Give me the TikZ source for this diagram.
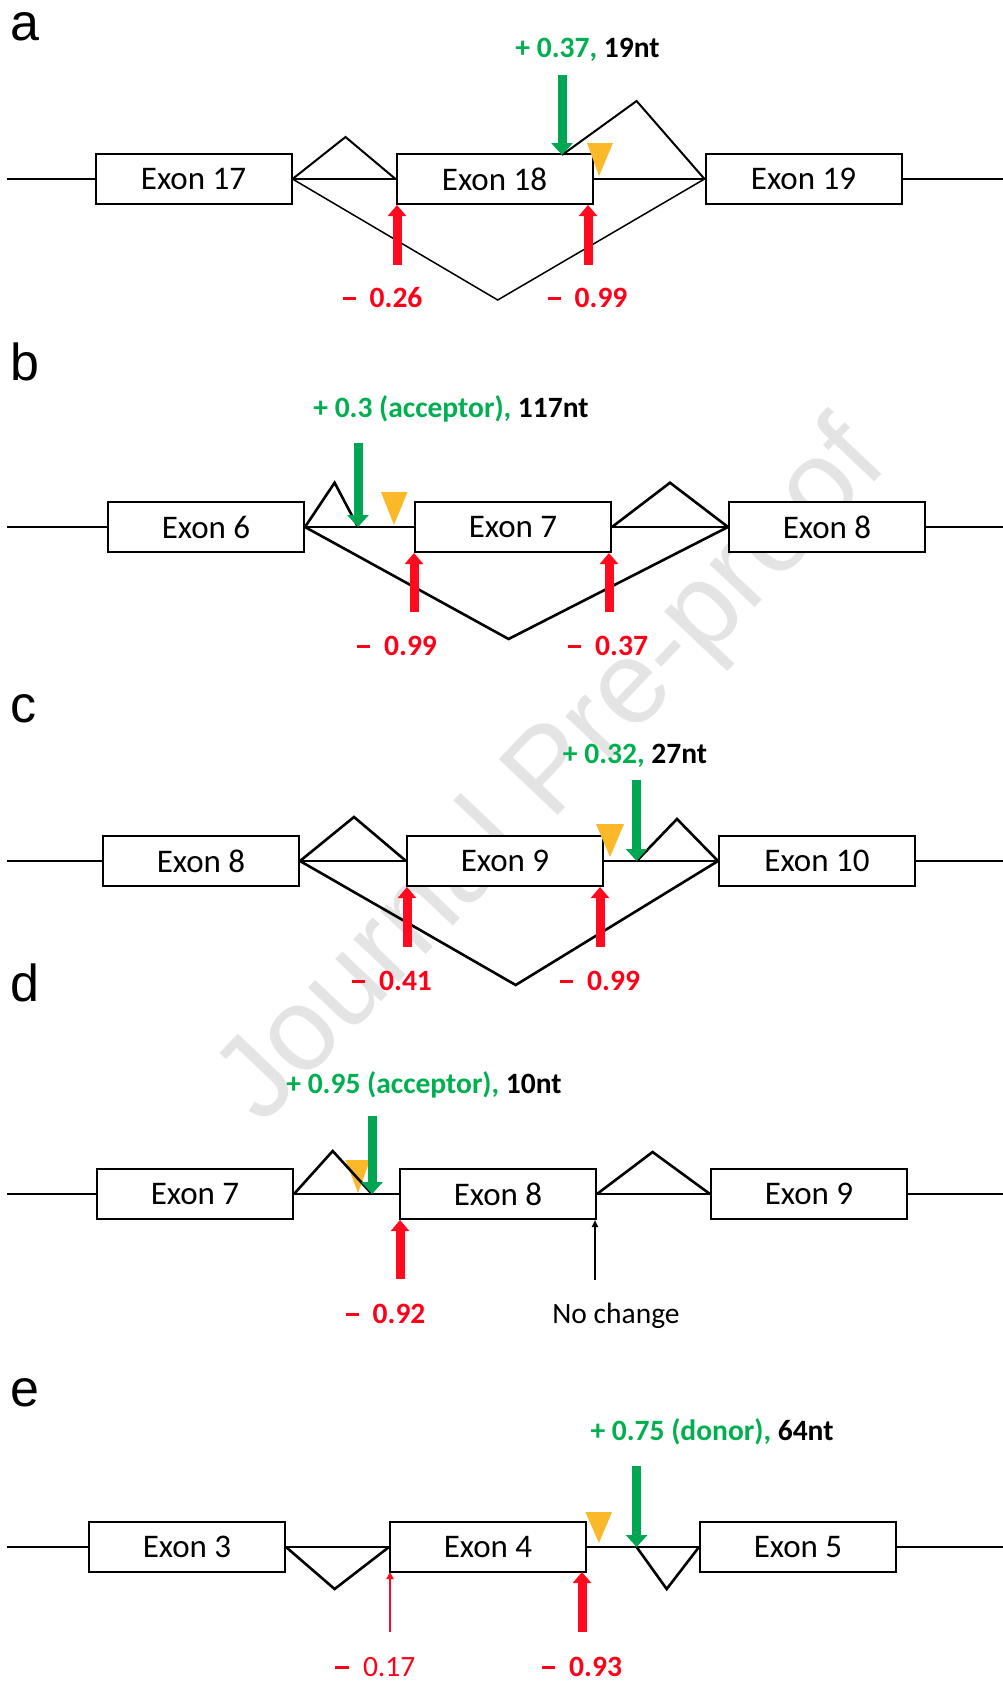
\documentclass[tikz,border=0pt]{standalone}
\usepackage{fontspec}
\setmainfont{Carlito}
\newfontfamily\lblfont{Liberation Sans}
\usetikzlibrary{arrows.meta}
\definecolor{gtext}{HTML}{00B050}
\definecolor{garrow}{HTML}{00A651}
\definecolor{rtext}{HTML}{FF0018}
\definecolor{rarrow}{HTML}{FF0A1E}
\definecolor{yel}{HTML}{FBB829}
\definecolor{wm}{HTML}{E4E4E4}
\newcommand{\bdash}{\rule[0.23em]{0.45em}{0.11em}\hspace{0.47em}}
\newcommand{\rdash}{\rule[0.25em]{0.5em}{0.075em}\hspace{0.46em}}
\begin{document}
\begin{tikzpicture}[x=1pt,y=-1pt,
 exon/.style={draw, fill=white, line width=2pt, minimum width=196pt, minimum height=50pt, inner sep=0pt, font=\fontsize{33}{33}\selectfont},
 bb/.style={line width=2pt},
 splice/.style={line width=2.6pt},
 splicea/.style={line width=2pt},
 splicethin/.style={line width=1.5pt},
 garr/.style={draw=garrow, line width=9pt, -{Triangle[width=21pt,length=12pt]}},
 rarr/.style={draw=rarrow, line width=9pt, -{Triangle[width=18pt,length=11pt]}},
 rthin/.style={draw=rarrow, line width=2pt, -{Triangle[width=7pt,length=7pt]}},
 kthin/.style={draw=black, line width=2pt, -{Triangle[width=6pt,length=7pt]}},
 val/.style={anchor=base, inner sep=0pt, font=\bfseries\fontsize{29.5}{29.5}\selectfont, text=rtext},
 valreg/.style={anchor=base, inner sep=0pt, font=\fontsize{29.5}{29.5}\selectfont, text=rtext},
 gval/.style={anchor=base, inner sep=0pt, font=\bfseries\fontsize{29.5}{29.5}\selectfont},
 plain/.style={anchor=base, inner sep=0pt, font=\fontsize{29.5}{29.5}\selectfont},
 panel/.style={anchor=base west, inner sep=0pt, font=\lblfont\fontsize{52}{52}\selectfont},
 ytri/.style={fill=yel}
]
\fill[white] (0,0) rectangle (1003,1681);
\useasboundingbox (0,0) rectangle (1003,1681);

% watermark
\node[rotate=46.5, text=wm, inner sep=0pt, font=\lblfont\fontsize{118}{118}\selectfont] (wmark) at (554,775) {Journal Pre-proof};

% panel letters
\node[panel] (la) at (10,40) {a};
\node[panel] (lb) at (10,380) {b};
\node[panel] (lc) at (10,722) {c};
\node[panel] (ld) at (10,1001) {d};
\node[panel] (le) at (10,1406) {e};

% ================= panel a =================
\coordinate (aL) at (7,179); \coordinate (aR) at (1003,179);
\draw[bb] (aL) -- (aR);
\node[exon] (a17) at (193.5,179) {Exon 17};
\node[exon] (a18) at (494.5,179) {Exon 18};
\node[exon] (a19) at (803.5,179) {Exon 19};
\coordinate (aP1) at (345.5,137);
\coordinate (aP2) at (636.6,101);
\coordinate (aV) at (497.7,300);
\coordinate (aG) at (562,155);
\coordinate (aGs) at (562,75);
\draw[splicea] (a17.east) -- (aP1) -- (a18.west);
\draw[splicea] (aG) -- (aP2) -- (a19.west);
\draw[splicethin] (a17.east) -- (aV) -- (a19.west);
\fill[ytri] (587,143) -- (613,143) -- (599,176) -- cycle;
\draw[garr] (aGs) -- (aG);
\coordinate (aR1s) at (397,265); \coordinate (aR1e) at (397,205);
\coordinate (aR2s) at (588,265); \coordinate (aR2e) at (588,205);
\draw[rarr] (aR1s) -- (aR1e);
\draw[rarr] (aR2s) -- (aR2e);
\node[val] (aT1) at (382.5,307) {\bdash 0.26};
\node[val] (aT2) at (587.5,307) {\bdash 0.99};
\node[gval] (aT3) at (587.5,57) {\textcolor{gtext}{+ 0.37,} 19nt};

% ================= panel b =================
\coordinate (bL) at (7,527); \coordinate (bR) at (1003,527);
\draw[bb] (bL) -- (bR);
\node[exon] (b6) at (206,527) {Exon 6};
\node[exon] (b7) at (513,527) {Exon 7};
\node[exon] (b8) at (827,527) {Exon 8};
\coordinate (bP1) at (334.6,482.7);
\coordinate (bG) at (358,527);
\coordinate (bGs) at (358,442.7);
\coordinate (bP2) at (670,482.7);
\coordinate (bV) at (508.6,639);
\draw[splice] (b6.east) -- (bP1) -- (bG);
\draw[splice] (b7.east) -- (bP2) -- (b8.west);
\draw[splice] (b6.east) -- (bV) -- (b8.west);
\fill[ytri] (381,492) -- (407.5,492) -- (394,525) -- cycle;
\draw[garr] (bGs) -- (bG);
\coordinate (bR1s) at (414,612); \coordinate (bR1e) at (414,553);
\coordinate (bR2s) at (609,612); \coordinate (bR2e) at (609,553);
\draw[rarr] (bR1s) -- (bR1e);
\draw[rarr] (bR2s) -- (bR2e);
\node[val] (bT1) at (397,655) {\bdash 0.99};
\node[val] (bT2) at (608,655) {\bdash 0.37};
\node[gval] (bT3) at (451,417) {\textcolor{gtext}{+ 0.3 (acceptor),} 117nt};

% ================= panel c =================
\coordinate (cL) at (7,861); \coordinate (cR) at (1003,861);
\draw[bb] (cL) -- (cR);
\node[exon] (c8) at (201,861) {Exon 8};
\node[exon] (c9) at (505,861) {Exon 9};
\node[exon] (c10) at (817,861) {Exon 10};
\coordinate (cP1) at (354,817);
\coordinate (cG) at (636.6,861);
\coordinate (cGs) at (636.6,780);
\coordinate (cP2) at (677,819);
\coordinate (cV) at (515.7,985);
\draw[splice] (c8.east) -- (cP1) -- (c9.west);
\draw[splice] (cG) -- (cP2) -- (c10.west);
\draw[splice] (c8.east) -- (cV) -- (c10.west);
\fill[ytri] (596,824) -- (624,824) -- (610,857) -- cycle;
\draw[garr] (cGs) -- (cG);
\coordinate (cR1s) at (407,947); \coordinate (cR1e) at (407,887);
\coordinate (cR2s) at (600,947); \coordinate (cR2e) at (600,887);
\draw[rarr] (cR1s) -- (cR1e);
\draw[rarr] (cR2s) -- (cR2e);
\node[val] (cT1) at (392,990) {\bdash 0.41};
\node[val] (cT2) at (600,990) {\bdash 0.99};
\node[gval] (cT3) at (635,763) {\textcolor{gtext}{+ 0.32,} 27nt};

% ================= panel d =================
\coordinate (dL) at (7,1194); \coordinate (dR) at (1003,1194);
\draw[bb] (dL) -- (dR);
\node[exon] (d7) at (195,1194) {Exon 7};
\node[exon] (d8) at (498,1194) {Exon 8};
\node[exon] (d9) at (809,1194) {Exon 9};
\coordinate (dP1) at (332.7,1151);
\coordinate (dG) at (372,1194);
\coordinate (dGs) at (372,1116);
\coordinate (dP2) at (652.6,1152);
\fill[ytri] (345.5,1160) -- (370,1160) -- (358,1193) -- cycle;
\draw[splice] (d7.east) -- (dP1) -- (dG);
\draw[splice] (d8.east) -- (dP2) -- (d9.west);
\draw[garr] (dGs) -- (dG);
\coordinate (dR1s) at (400,1279); \coordinate (dR1e) at (400,1220);
\coordinate (dK1s) at (595,1280); \coordinate (dK1e) at (595,1220);
\draw[rarr] (dR1s) -- (dR1e);
\draw[kthin] (dK1s) -- (dK1e);
\node[val] (dT1) at (385.5,1323) {\bdash 0.92};
\node[plain] (dT2) at (616,1323) {No change};
\node[gval] (dT3) at (424,1093) {\textcolor{gtext}{+ 0.95 (acceptor),} 10nt};

% ================= panel e =================
\coordinate (eL) at (7,1547); \coordinate (eR) at (1003,1547);
\draw[bb] (eL) -- (eR);
\node[exon] (e3) at (187,1547) {Exon 3};
\node[exon] (e4) at (488,1547) {Exon 4};
\node[exon] (e5) at (798,1547) {Exon 5};
\coordinate (eV1) at (334.6,1589);
\coordinate (eG) at (636.6,1547);
\coordinate (eGs) at (636.6,1466);
\coordinate (eV2) at (666.7,1589);
\draw[splice] (e3.east) -- (eV1) -- (e4.west);
\draw[splice] (eG) -- (eV2) -- (e5.west);
\fill[ytri] (585.4,1512) -- (612,1512) -- (599,1543) -- cycle;
\draw[garr] (eGs) -- (eG);
\coordinate (eR1s) at (390,1632); \coordinate (eR1e) at (390,1572);
\coordinate (eR2s) at (582,1632); \coordinate (eR2e) at (582,1572);
\draw[rthin] (eR1s) -- (eR1e);
\draw[rarr] (eR2s) -- (eR2e);
\node[valreg] (eT1) at (375,1676) {\rdash 0.17};
\node[val] (eT2) at (582,1676) {\bdash 0.93};
\node[gval] (eT3) at (712,1440) {\textcolor{gtext}{+ 0.75 (donor),} 64nt};
\end{tikzpicture}
\end{document}
